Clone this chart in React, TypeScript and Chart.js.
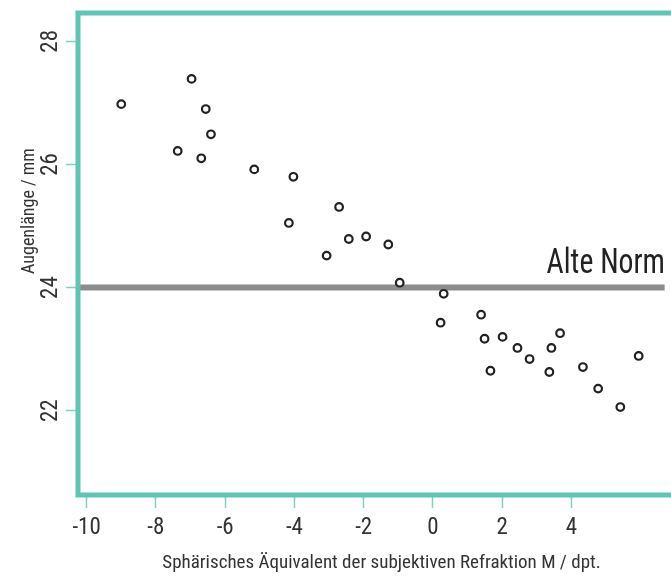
import React, { useEffect, useRef } from "react";
import { Chart, registerables } from "chart.js";

Chart.register(...registerables);

// Data
const refractionM: number[] = [
  -9.0, -6.97, -6.56, -6.41, -7.37, -6.69, -5.16, -4.03, -4.16, -2.71,
  -2.43, -1.93, -1.29, -3.07, -0.96, 0.31, 0.22, 1.39, 1.49, 2.01,
  1.66, 2.44, 2.79, 3.42, 3.67, 3.36, 4.33, 4.77, 5.41, 5.94,
];
const axialLength: number[] = [
  26.98, 27.39, 26.9, 26.49, 26.22, 26.1, 25.92, 25.8, 25.05, 25.31,
  24.79, 24.83, 24.7, 24.52, 24.08, 23.9, 23.43, 23.56, 23.17, 23.2,
  22.65, 23.02, 22.84, 23.02, 23.26, 22.63, 22.71, 22.36, 22.06, 22.89,
];
const xTicks: number[] = [-10, -8, -6, -4, -2, 0, 2, 4];
const yTicks: number[] = [22, 24, 26, 28];
const normValue = 24;
const normLabel = "Alte Norm";
const xTitle = "Sphärisches Äquivalent der subjektiven Refraktion M / dpt.";
const yTitle = "Augenlänge / mm";
const xRange: [number, number] = [-10.249, 6.694];
const yRange: [number, number] = [20.632, 28.46];

const TEAL = "#5ec4b3";
const TICK_TEAL = "#7fd1c4";
const FONT = '"Roboto Condensed", "DejaVu Sans Condensed", sans-serif';
const TEXT = "#333333";

export default function App() {
  const ref = useRef<HTMLCanvasElement | null>(null);

  useEffect(() => {
    if (!ref.current) return;
    const decor = {
      id: "decor",
      afterDatasetsDraw(chart: any) {
        const { ctx, chartArea } = chart;
        const w = chart.width;
        ctx.save();
        ctx.strokeStyle = TEAL;
        ctx.lineWidth = 5;
        ctx.lineJoin = "miter";
        ctx.beginPath();
        ctx.moveTo(w + 5, chartArea.top);
        ctx.lineTo(chartArea.left, chartArea.top);
        ctx.lineTo(chartArea.left, chartArea.bottom);
        ctx.lineTo(w + 5, chartArea.bottom);
        ctx.stroke();
        ctx.restore();
      },
      afterDraw(chart: any) {
        const { ctx } = chart;
        const ys = chart.scales.y;
        ctx.save();
        ctx.fillStyle = TEXT;
        // y tick labels (rotated)
        ctx.font = `23px ${FONT}`;
        ctx.textAlign = "center";
        ctx.textBaseline = "alphabetic";
        for (const t of ys.ticks) {
          const py = ys.getPixelForValue(t.value);
          ctx.save();
          ctx.translate(57, py);
          ctx.rotate(-Math.PI / 2);
          ctx.fillText(String(t.value), 0, 0);
          ctx.restore();
        }
        // y title
        ctx.font = `18px ${FONT}`;
        ctx.save();
        ctx.translate(34, 211);
        ctx.rotate(-Math.PI / 2);
        ctx.fillText(yTitle, 0, 0);
        ctx.restore();
        // x title
        ctx.font = `19px ${FONT}`;
        ctx.fillText(xTitle, 381.5, 568);
        // norm label
        const ny = ys.getPixelForValue(normValue);
        ctx.fillStyle = "#222222";
        ctx.font = `35px ${FONT}`;
        ctx.textAlign = "right";
        ctx.save();
        ctx.translate(665, ny - 15);
        ctx.scale(0.85, 1);
        ctx.fillText(normLabel, 0, 0);
        ctx.restore();
        ctx.restore();
      },
    };

    const chart = new Chart(ref.current, {
      type: "scatter",
      data: {
        datasets: [
          {
            type: "scatter",
            data: refractionM.map((x, i) => ({ x, y: axialLength[i] })),
            pointRadius: 3.8,
            pointBorderWidth: 2.2,
            pointBorderColor: "#222222",
            pointBackgroundColor: "#ffffff",
            order: 1,
          } as any,
          {
            type: "line",
            data: [
              { x: xRange[0], y: normValue },
              { x: xRange[1], y: normValue },
            ],
            borderColor: "#8c8c8c",
            borderWidth: 6,
            pointRadius: 0,
            order: 2,
          } as any,
        ],
      },
      options: {
        animation: false,
        responsive: false,
        events: [],
        layout: { padding: { top: 13, left: 0, right: 0, bottom: 0 } },
        plugins: { legend: { display: false }, tooltip: { enabled: false } },
        scales: {
          x: {
            type: "linear",
            min: xRange[0],
            max: xRange[1],
            afterBuildTicks: (s: any) => {
              s.ticks = xTicks.map((v) => ({ value: v }));
            },
            afterFit: (s: any) => {
              s.height = 81;
            },
            ticks: {
              includeBounds: false,
              stepSize: 2,
              color: TEXT,
              font: { family: FONT, size: 23 },
              padding: 6,
              maxRotation: 0,
              minRotation: 0,
            },
            grid: {
              drawOnChartArea: false,
              drawTicks: true,
              tickLength: 13,
              tickColor: TICK_TEAL,
              tickWidth: 1.5,
            },
            border: { display: false },
          },
          y: {
            type: "linear",
            min: yRange[0],
            max: yRange[1],
            afterBuildTicks: (s: any) => {
              s.ticks = yTicks.map((v) => ({ value: v }));
            },
            afterFit: (s: any) => {
              s.width = 78;
            },
            ticks: { display: false, includeBounds: false, stepSize: 2 },
            grid: {
              drawOnChartArea: false,
              drawTicks: true,
              tickLength: 12,
              tickColor: TICK_TEAL,
              tickWidth: 1.5,
            },
            border: { display: false },
          },
        },
      } as any,
      plugins: [decor],
    });
    return () => chart.destroy();
  }, []);

  return (
    <div style={{ position: "fixed", left: 0, top: 0, width: 671, height: 576, background: "#fff" }}>
      <canvas ref={ref} width={671} height={576} style={{ display: "block" }} />
    </div>
  );
}
